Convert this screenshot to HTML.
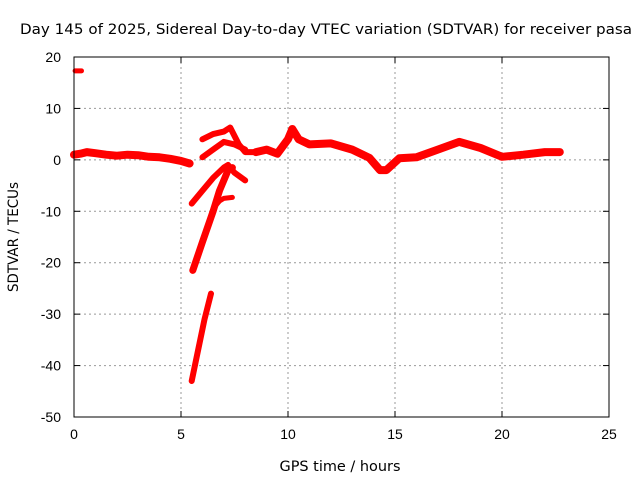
<!DOCTYPE html>
<html><head><meta charset="utf-8"><style>
body{margin:0;background:#fff}
svg text{font-family:"DejaVu Sans","Liberation Sans",sans-serif;font-size:14px;fill:#000}
svg text.tick{font-family:"Liberation Sans",sans-serif}
</style></head><body>
<svg width="640" height="480">
<rect width="640" height="480" fill="#fff"/>
<g id="grid"></g>
<g id="axes"></g>
<g id="series"></g>
<rect x="74" y="57" width="535" height="360" fill="none" stroke="#000" stroke-width="1"/>
<text x="326" y="34" text-anchor="middle" textLength="612" lengthAdjust="spacingAndGlyphs">Day 145 of 2025, Sidereal Day-to-day VTEC variation (SDTVAR) for receiver pasa</text>
<text x="340" y="471" text-anchor="middle" textLength="121" lengthAdjust="spacingAndGlyphs">GPS time / hours</text>
<text transform="translate(18,237) rotate(-90)" text-anchor="middle" textLength="110" lengthAdjust="spacingAndGlyphs">SDTVAR / TECUs</text>
</svg>
<script>
const xTicks=[0,5,10,15,20,25];
const yTicks=[20,10,0,-10,-20,-30,-40,-50];
const mainHours=[0,0.3,0.6,1,1.5,2,2.5,3,3.5,4,4.5,5,5.4,6,8.5,9,9.5,10,10.2,10.5,11,12,13,13.8,14.3,14.6,15.2,16,17,18,19,20,21,22,22.7];
const mainVals=[1,1.2,1.5,1.3,1,0.8,1,0.9,0.6,0.5,0.2,-0.2,-0.7,null,1.5,2,1.2,4,6,4,3,3.2,2,0.4,-2,-2,0.3,0.5,2,3.5,2.3,0.6,1,1.5,1.5];
const arc1Hours=[6,6.5,7,7.3,7.7,8,8.5];
const arc1Vals=[4,5,5.5,6.3,3,1.5,1.5];
const arc2Hours=[6,6.5,7,7.5,8];
const arc2Vals=[0.5,2,3.5,3,2];
const arc3Hours=[5.5,6,6.5,7,7.2,7.5,8];
const arc3Vals=[-8.5,-6,-3.5,-1.5,-1,-2.5,-4];
const arc4Hours=[5.55,6,6.5,6.8,7.2,7.4];
const arc4Vals=[-21.5,-16,-10,-6,-2,-1.5];
const arc5Hours=[6.5,6.8,7,7.4];
const arc5Vals=[-9.5,-8,-7.5,-7.3];
const arc6Hours=[5.5,5.8,6.1,6.4];
const arc6Vals=[-43,-37,-31,-26];
const dotHours=[0.05,0.35];
const dotVals=[17.3,17.3];

const X0=74,X1=609,Y0=417,Y1=57;
const xs=h=>X0+(h-0)/25*(X1-X0);
const ys=v=>Y0-(v+50)/70*(Y0-Y1);
const NS="http://www.w3.org/2000/svg";
const grid=document.getElementById('grid'),axes=document.getElementById('axes'),ser=document.getElementById('series');
function mk(t,a,p){const e=document.createElementNS(NS,t);for(const k in a)e.setAttribute(k,a[k]);p.appendChild(e);return e;}
xTicks.forEach(t=>{
  const x=xs(t);
  if(t>0&&t<25){const l=mk('line',{x1:x,x2:x,y1:Y1,y2:Y0,stroke:'#999','stroke-dasharray':'2,3'},grid);
  
  }
  mk('line',{x1:x,x2:x,y1:Y0,y2:Y0-6,stroke:'#000'},axes);
  mk('line',{x1:x,x2:x,y1:Y1,y2:Y1+6,stroke:'#000'},axes);
  const tx=mk('text',{x:x,y:Y0+22,'text-anchor':'middle','class':'tick'},axes);tx.textContent=t;
  
  
});
yTicks.forEach(t=>{
  const y=ys(t);
  if(t>-50&&t<20){const l=mk('line',{x1:X0,x2:X1,y1:y,y2:y,stroke:'#999','stroke-dasharray':'2,3'},grid);
  
  }
  mk('line',{x1:X0,x2:X0+6,y1:y,y2:y,stroke:'#000'},axes);
  mk('line',{x1:X1,x2:X1-6,y1:y,y2:y,stroke:'#000'},axes);
  const tx=mk('text',{x:X0-13,y:y+5,'text-anchor':'end','class':'tick'},axes);tx.textContent=t;
  
  
});
function draw(hs,vs,w,name){
  let segs=[],cur=[];
  hs.forEach((h,i)=>{if(vs[i]===null){if(cur.length)segs.push(cur);cur=[];}else cur.push(xs(h).toFixed(1)+','+ys(vs[i]).toFixed(1));});
  if(cur.length)segs.push(cur);
  segs.forEach(s=>{const p=mk('polyline',{points:s.join(' '),fill:'none',stroke:'#f00','stroke-width':w,'stroke-linejoin':'round','stroke-linecap':'round'},ser);
  
  });
}
draw(mainHours,mainVals,8,'main-trace');
draw(arc1Hours,arc1Vals,6,'arc-upper');
draw(arc2Hours,arc2Vals,6,'arc-second');
draw(arc3Hours,arc3Vals,6,'arc-third');
draw(arc4Hours,arc4Vals,7,'arc-fourth');
draw(arc5Hours,arc5Vals,5,'arc-fifth');
draw(arc6Hours,arc6Vals,6,'arc-lowest');
draw(dotHours,dotVals,5,'outlier-point');
</script>
</body></html>
